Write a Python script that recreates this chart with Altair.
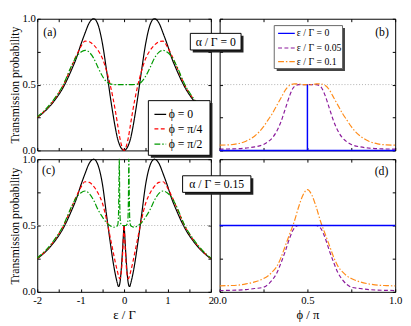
import altair as alt
import pandas as pd

FONT = "Liberation Serif"

# ---------------- data ----------------
# Panel (a): alpha/Gamma = 0, transmission vs eps/Gamma
eps_a = [-2.0, -1.8, -1.6, -1.4, -1.2, -1.1, -1.0, -0.9, -0.8, -0.7, -0.6, -0.5, -0.4, -0.3, -0.2, -0.15, -0.1, -0.05, 0.0,
         0.05, 0.1, 0.15, 0.2, 0.3, 0.4, 0.5, 0.6, 0.7, 0.8, 0.9, 1.0, 1.1, 1.2, 1.4, 1.6, 1.8, 2.0]
a_phi0 = [0.25, 0.305, 0.38, 0.48, 0.62, 0.70, 0.80, 0.89, 0.97, 1.0, 0.955, 0.815, 0.60, 0.37, 0.17, 0.09, 0.04, 0.01, 0.0,
          0.01, 0.04, 0.09, 0.17, 0.37, 0.60, 0.815, 0.955, 1.0, 0.97, 0.89, 0.80, 0.70, 0.62, 0.48, 0.38, 0.305, 0.25]
a_phi1 = [0.252, 0.31, 0.39, 0.495, 0.645, 0.72, 0.785, 0.83, 0.825, 0.80, 0.76, 0.70, 0.60, 0.47, 0.30, 0.20, 0.10, 0.03, 0.0,
          0.03, 0.10, 0.20, 0.30, 0.47, 0.60, 0.70, 0.76, 0.80, 0.825, 0.83, 0.785, 0.72, 0.645, 0.495, 0.39, 0.31, 0.252]
a_phi2 = [0.255, 0.315, 0.395, 0.50, 0.65, 0.71, 0.745, 0.76, 0.745, 0.70, 0.63, 0.565, 0.52, 0.503, 0.50, 0.50, 0.50, 0.50, 0.50,
          0.50, 0.50, 0.50, 0.50, 0.503, 0.52, 0.565, 0.63, 0.70, 0.745, 0.76, 0.745, 0.71, 0.65, 0.50, 0.395, 0.315, 0.255]

# Panel (c): alpha/Gamma = 0.15
eps_c = [-2.0, -1.8, -1.6, -1.4, -1.2, -1.1, -1.0, -0.9, -0.8, -0.7, -0.6, -0.5, -0.4, -0.3, -0.25, -0.2, -0.15, -0.13,
         -0.12, -0.11, -0.1, -0.09, -0.08, -0.06, -0.04, -0.02, 0.0,
         0.02, 0.04, 0.06, 0.08, 0.09, 0.1, 0.11, 0.12, 0.13, 0.15, 0.2, 0.25, 0.3, 0.4, 0.5, 0.6, 0.7, 0.8, 0.9,
         1.0, 1.1, 1.2, 1.4, 1.6, 1.8, 2.0]
c_phi0 = [0.25, 0.305, 0.38, 0.48, 0.62, 0.70, 0.80, 0.89, 0.97, 1.0, 0.955, 0.815, 0.57, 0.33, 0.22, 0.13, 0.06, 0.04,
          0.04, 0.045, 0.06, 0.08, 0.11, 0.19, 0.29, 0.40, 0.50,
          0.40, 0.29, 0.19, 0.11, 0.08, 0.06, 0.045, 0.04, 0.04, 0.06, 0.13, 0.22, 0.33, 0.57, 0.815, 0.955, 1.0, 0.97, 0.89,
          0.80, 0.70, 0.62, 0.48, 0.38, 0.305, 0.25]
c_phi1 = [0.252, 0.31, 0.39, 0.495, 0.645, 0.72, 0.785, 0.83, 0.825, 0.795, 0.745, 0.67, 0.54, 0.38, 0.30, 0.22, 0.15, 0.125,
          0.115, 0.105, 0.10, 0.10, 0.11, 0.16, 0.25, 0.37, 0.50,
          0.37, 0.25, 0.16, 0.11, 0.10, 0.10, 0.105, 0.115, 0.125, 0.15, 0.22, 0.30, 0.38, 0.54, 0.67, 0.745, 0.795, 0.825, 0.83,
          0.785, 0.72, 0.645, 0.495, 0.39, 0.31, 0.252]
c_phi2 = [0.255, 0.315, 0.395, 0.50, 0.65, 0.71, 0.745, 0.76, 0.74, 0.69, 0.62, 0.565, 0.52, 0.495, 0.487, 0.49, 0.50, 0.56,
          0.75, 1.0, 0.70, 0.55, 0.52, 0.505, 0.50, 0.50, 0.50,
          0.50, 0.50, 0.505, 0.52, 0.55, 0.70, 1.0, 0.75, 0.56, 0.50, 0.49, 0.487, 0.495, 0.52, 0.565, 0.62, 0.69, 0.74, 0.76,
          0.745, 0.71, 0.65, 0.50, 0.395, 0.315, 0.255]

# Panels (b), (d): transmission vs phi/pi
phi = [0.0, 0.05, 0.1, 0.15, 0.2, 0.25, 0.275, 0.3, 0.325, 0.35, 0.375, 0.4, 0.425, 0.45, 0.475, 0.5,
       0.525, 0.55, 0.575, 0.6, 0.625, 0.65, 0.675, 0.7, 0.725, 0.75, 0.8, 0.85, 0.9, 0.95, 1.0]
b_eps005 = [0.01, 0.011, 0.013, 0.018, 0.027, 0.045, 0.065, 0.095, 0.145, 0.22, 0.32, 0.42, 0.485, 0.50, 0.50, 0.50,
            0.50, 0.50, 0.485, 0.42, 0.32, 0.22, 0.145, 0.095, 0.065, 0.045, 0.027, 0.018, 0.013, 0.011, 0.01]
b_eps01 = [0.04, 0.042, 0.05, 0.07, 0.11, 0.18, 0.23, 0.28, 0.34, 0.40, 0.46, 0.495, 0.505, 0.505, 0.50, 0.50,
           0.50, 0.505, 0.505, 0.495, 0.46, 0.40, 0.34, 0.28, 0.23, 0.18, 0.11, 0.07, 0.05, 0.042, 0.04]
b_eps0_phi = [0.0, 0.5, 0.5, 0.5, 1.0]
b_eps0 = [0.0, 0.0, 0.5, 0.0, 0.0]
d_eps005 = [0.01, 0.011, 0.013, 0.017, 0.025, 0.035, 0.055, 0.09, 0.14, 0.22, 0.31, 0.41, 0.48, 0.50, 0.50, 0.50,
            0.50, 0.50, 0.48, 0.41, 0.31, 0.22, 0.14, 0.09, 0.055, 0.035, 0.025, 0.017, 0.013, 0.011, 0.01]
d_eps01 = [0.045, 0.047, 0.05, 0.06, 0.075, 0.10, 0.12, 0.15, 0.19, 0.26, 0.35, 0.44, 0.53, 0.64, 0.73, 0.77,
           0.73, 0.64, 0.53, 0.44, 0.35, 0.26, 0.19, 0.15, 0.12, 0.10, 0.075, 0.06, 0.05, 0.047, 0.045]
d_eps0_phi = [0.0, 1.0]
d_eps0 = [0.5, 0.5]

phi_labels = ["ϕ = 0", "ϕ = π/4", "ϕ = π/2"]
phi_colors = ["#000000", "#ff0000", "#009a00"]
phi_dashes = [[1, 0], [4, 2.5], [6, 2, 1.5, 2]]
eps_labels = ["ε / Γ = 0", "ε / Γ = 0.05", "ε / Γ = 0.1"]
eps_colors = ["#0000ff", "#8b1a9b", "#ff8c1a"]
eps_dashes = [[1, 0], [4, 2.5], [6, 2, 1.5, 2]]


def long_df(xs_list, ys_list, labels):
    rows = []
    for xs, ys, lab in zip(xs_list, ys_list, labels):
        for i, (x, y) in enumerate(zip(xs, ys)):
            rows.append({"x": x, "t": y, "s": lab, "i": i})
    return pd.DataFrame(rows)


df_a = long_df([eps_a] * 3, [a_phi0, a_phi1, a_phi2], phi_labels)
df_c = long_df([eps_c] * 3, [c_phi0, c_phi1, c_phi2], phi_labels)
df_b = long_df([phi, phi], [b_eps005, b_eps01], eps_labels[1:])
df_b0 = long_df([b_eps0_phi], [b_eps0], eps_labels[:1])
df_d = long_df([phi, phi], [d_eps005, d_eps01], eps_labels[1:])
df_d0 = long_df([d_eps0_phi], [d_eps0], eps_labels[:1])

# ---------------- helpers ----------------
W_L, W_R, H_T, H_B = 178, 180, 135, 136

eps_ticks = [-2, -1.5, -1, -0.5, 0, 0.5, 1, 1.5, 2]
unit_ticks = [0, 0.25, 0.5, 0.75, 1]
TICK = dict(offset=-3, tickSize=3, tickColor="black", domain=False, grid=False)


def x_axis(ticks, labels, title, int_labels):
    if int_labels:
        expr = "datum.value % 1 == 0 ? '' + datum.value : ''"
    else:
        expr = "(datum.value * 2) % 1 == 0 ? format(datum.value, '.1f') : ''"
    if labels:
        return alt.Axis(values=ticks, title=title, titleFont=FONT, titleFontSize=13, titleFontWeight="normal",
                        titleColor="black", titlePadding=3, labelPadding=3, labelExpr=expr,
                        labelFontSize=11, labelFont=FONT, labelColor="black",
                        labelFlush=False, labelOverlap=False, **TICK)
    return alt.Axis(values=ticks, title=None, labels=False, **TICK)


def y_axis(labels):
    if labels:
        return alt.Axis(values=unit_ticks, title="Transmission probability", titleFont=FONT, titleFontSize=12,
                        titleFontWeight="normal", titleColor="black", titlePadding=0,
                        labelExpr="(datum.value * 2) % 1 == 0 ? format(datum.value, '.1f') : ''",
                        labelFont=FONT, labelFontSize=11, labelColor="black", labelPadding=2,
                        labelFlush=False, labelOverlap=False, **TICK)
    return alt.Axis(values=unit_ticks, title=None, labels=False, **TICK)


def lines(df, xdom, xaxis, yaxis, labels, colors, dashes, interp="monotone", width=1.2):
    return alt.Chart(df).mark_line(strokeWidth=width, interpolate=interp).encode(
        x=alt.X("x:Q", scale=alt.Scale(domain=xdom, nice=False, zero=False), axis=xaxis),
        y=alt.Y("t:Q", scale=alt.Scale(domain=[0, 1], nice=False, zero=False), axis=yaxis),
        color=alt.Color("s:N", scale=alt.Scale(domain=labels, range=colors), legend=None),
        strokeDash=alt.StrokeDash("s:N", scale=alt.Scale(domain=labels, range=dashes), legend=None),
        order="i:Q",
    )


def mirror(df, xticks):
    """Invisible layer that only carries the inward ticks on the top and right edges."""
    return alt.Chart(df).mark_point(opacity=0).encode(
        x=alt.X("x:Q", axis=alt.Axis(orient="top", values=xticks, labels=False, title=None, **TICK)),
        y=alt.Y("t:Q", axis=alt.Axis(orient="right", values=unit_ticks, labels=False, title=None, **TICK)),
    )


def half_rule():
    return alt.Chart().mark_rule(color="#b0b0b0", strokeDash=[1, 2], strokeWidth=1).encode(
        y=alt.YDatum(0.5, axis=None))


def box(x1, x2, y1, y2, stroke="black", shadow="#222222"):
    enc = dict(x=alt.XDatum(x1, axis=None), x2=alt.X2Datum(x2), y=alt.YDatum(y1, axis=None), y2=alt.Y2Datum(y2))
    sh = alt.Chart().mark_rect(fill=shadow, xOffset=2.5, x2Offset=2.5, yOffset=2.5, y2Offset=2.5).encode(**enc)
    bx = alt.Chart().mark_rect(fill="white", stroke=stroke, strokeWidth=1).encode(**enc)
    return alt.layer(sh, bx)


def text_at(x, y, txt, size=12, align="center"):
    return alt.Chart().mark_text(font=FONT, fontSize=size, color="black", align=align, baseline="middle").encode(
        x=alt.XDatum(x, axis=None), y=alt.YDatum(y, axis=None), text=alt.value(txt))


def manual_legend(labels, ys, x1, x2, xt, size):
    ldf = pd.DataFrame({"s": labels, "y": ys, "x1": [x1] * len(labels), "x2": [x2] * len(labels),
                        "xt": [xt] * len(labels)})
    ln = alt.Chart(ldf).mark_rule(strokeWidth=1.2).encode(
        x=alt.X("x1:Q", axis=None), x2="x2:Q", y=alt.Y("y:Q", axis=None), color=alt.Color("s:N", legend=None),
        strokeDash=alt.StrokeDash("s:N", legend=None))
    tx = alt.Chart(ldf).mark_text(font=FONT, fontSize=size, color="black", align="left", baseline="middle").encode(
        x=alt.X("xt:Q", axis=None), y=alt.Y("y:Q", axis=None), text="s:N")
    return alt.layer(ln, tx)


def panel(layers, w, h):
    return alt.layer(*layers).resolve_axis(x="independent", y="independent").properties(width=w, height=h)


# ---------------- panels ----------------
pa = panel([
    half_rule(),
    lines(df_a, [-2, 2], x_axis(eps_ticks, False, None, True), y_axis(True), phi_labels, phi_colors, phi_dashes),
    mirror(df_a, eps_ticks),
    box(0.56, 1.98, 0.378, -0.037),
    manual_legend(phi_labels, [0.274, 0.163, 0.048], 0.70, 0.97, 1.03, 12),
    text_at(-1.71, 0.90, "(a)"),
], W_L, H_T)

pb = panel([
    half_rule(),
    lines(df_b, [0, 1], x_axis(unit_ticks, False, None, False), y_axis(False), eps_labels, eps_colors, eps_dashes),
    lines(df_b0, [0, 1], None, None, eps_labels, eps_colors, eps_dashes, interp="linear", width=1.5),
    mirror(df_b, unit_ticks),
    box(0.311, 0.70, 0.948, 0.622, stroke="#666666", shadow="#444444"),
    manual_legend(eps_labels, [0.889, 0.778, 0.674], 0.333, 0.428, 0.439, 10),
    box(-0.167, 0.122, 0.889, 0.763),
    text_at(-0.022, 0.826, "α / Γ = 0"),
    text_at(0.925, 0.90, "(b)"),
], W_R, H_T)

pc = panel([
    half_rule(),
    lines(df_c, [-2, 2], x_axis(eps_ticks, True, "ε / Γ", True), y_axis(True), phi_labels, phi_colors, phi_dashes),
    mirror(df_c, eps_ticks),
    text_at(-1.74, 0.92, "(c)"),
], W_L, H_B)

pd_ = panel([
    half_rule(),
    lines(df_d, [0, 1], x_axis(unit_ticks, True, "ϕ / π", False), y_axis(False), eps_labels, eps_colors, eps_dashes),
    lines(df_d0, [0, 1], None, None, eps_labels, eps_colors, eps_dashes, interp="linear", width=1.5),
    mirror(df_d, unit_ticks),
    box(-0.211, 0.178, 0.875, 0.75),
    text_at(-0.017, 0.8125, "α / Γ = 0.15"),
    text_at(0.922, 0.908, "(d)"),
], W_R, H_B)

res = dict(x="independent", y="independent", color="independent", strokeDash="independent")

chart = alt.concat(pa, pb, pc, pd_, columns=2, spacing=9, bounds="flush").resolve_scale(**res).resolve_axis(
    x="independent", y="independent"
).properties(
    padding={"left": 0, "top": 0, "right": 0, "bottom": 0}, background="white"
).configure_view(stroke="black", strokeWidth=1)

chart.save("out.html", embed_options={"renderer": "svg", "actions": False})
